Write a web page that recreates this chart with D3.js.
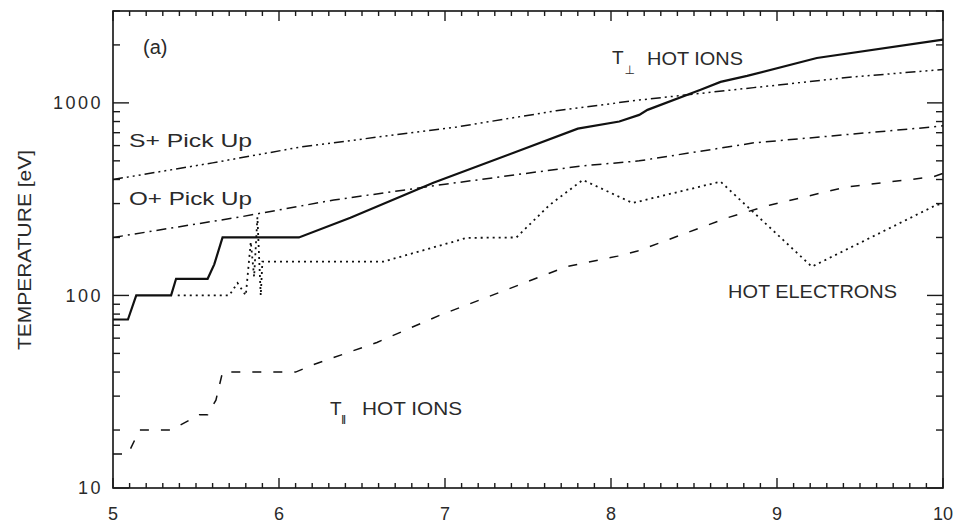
<!DOCTYPE html>
<html>
<head>
<meta charset="utf-8">
<script src="https://cdn.jsdelivr.net/npm/d3@7"></script>
<style>
  html, body { margin: 0; padding: 0; background: #fff; }
  svg { display: block; }
  text { font-family: "Liberation Sans", "DejaVu Sans", sans-serif; fill: #2a2a2a; }
</style>
</head>
<body>
<svg id="chart" width="956" height="526"></svg>
<script>
// Distance along the flux tube (x) and temperature in eV (y)
const tPerpHotIons = [
  [5.00, 75], [5.09, 75], [5.14, 100], [5.35, 100], [5.38, 122], [5.57, 122],
  [5.61, 145], [5.66, 200], [6.12, 200], [6.43, 253], [6.93, 385], [7.20, 470],
  [7.80, 735], [8.05, 800], [8.17, 866], [8.22, 920], [8.54, 1170], [8.66, 1285],
  [8.82, 1380], [9.24, 1710], [10.00, 2130]
];
const sPlusPickUp = [
  [5.00, 400], [5.60, 488], [6.13, 590], [7.07, 750], [7.67, 910], [8.17, 1035],
  [8.86, 1200], [9.46, 1365], [10.00, 1490]
];
const oPlusPickUp = [
  [5.00, 200], [5.77, 256], [6.33, 313], [7.00, 378], [7.83, 471], [8.17, 500],
  [8.86, 620], [9.94, 750], [10.00, 760]
];
const tParHotIons = [
  [5.00, 15], [5.09, 15], [5.16, 20], [5.35, 20], [5.52, 24], [5.57, 24],
  [5.62, 28.6], [5.66, 40], [6.10, 40], [6.20, 43.5], [6.59, 57], [6.97, 79],
  [7.37, 107], [7.73, 141], [8.04, 160], [8.16, 170], [8.70, 253], [8.96, 295],
  [9.42, 366], [9.94, 413], [10.00, 430]
];
const hotElectrons = [
  [5.39, 100], [5.70, 100], [5.75, 116], [5.80, 100], [5.83, 190], [5.85, 125],
  [5.87, 255], [5.89, 100], [5.90, 150], [6.63, 150], [7.05, 190], [7.13, 199],
  [7.43, 200], [7.63, 295], [7.83, 398], [8.13, 302], [8.66, 390], [9.21, 141],
  [9.96, 295], [10.00, 300]
];
const xMajorTicks = [5, 6, 7, 8, 9, 10];
const yMajorTicks = [10, 100, 1000];

const svg = d3.select("#chart");
const plotLeft = 113, plotRight = 943, plotTop = 11, plotBottom = 488;

const x = d3.scaleLinear().domain([5, 10]).range([plotLeft, plotRight]);
const y = d3.scaleLog().domain([10, 3000]).range([plotBottom, plotTop]);

const xMinor = d3.range(50, 101).map(v => v / 10).filter(v => !xMajorTicks.includes(v));
const yMinor = y.ticks().filter(v => !yMajorTicks.includes(v));

// frame
svg.append("rect")
  .attr("x", plotLeft).attr("y", plotTop)
  .attr("width", plotRight - plotLeft).attr("height", plotBottom - plotTop)
  .attr("fill", "none").attr("stroke", "#111").attr("stroke-width", 1.6);

// inward tick marks on all four sides, drawn from the scales
const tickG = svg.append("g").attr("stroke", "#1a1a1a").attr("stroke-width", 1.4);
function xTicks(values, len) {
  tickG.selectAll(null).data(values).join("line")
    .attr("x1", d => x(d)).attr("x2", d => x(d))
    .attr("y1", plotBottom).attr("y2", plotBottom - len);
  tickG.selectAll(null).data(values).join("line")
    .attr("x1", d => x(d)).attr("x2", d => x(d))
    .attr("y1", plotTop).attr("y2", plotTop + len);
}
function yTicks(values, len) {
  tickG.selectAll(null).data(values).join("line")
    .attr("y1", d => y(d)).attr("y2", d => y(d))
    .attr("x1", plotLeft).attr("x2", plotLeft + len);
  tickG.selectAll(null).data(values).join("line")
    .attr("y1", d => y(d)).attr("y2", d => y(d))
    .attr("x1", plotRight).attr("x2", plotRight - len);
}
xTicks(xMajorTicks, 10);
xTicks(xMinor, 5);
yTicks(yMajorTicks, 16);
yTicks(yMinor, 7);

// tick labels
svg.append("g").selectAll("text").data(xMajorTicks).join("text")
  .attr("x", d => x(d)).attr("y", plotBottom + 32)
  .attr("text-anchor", "middle").attr("font-size", 18)
  .text(d3.format("d"));
svg.append("g").selectAll("text").data(yMajorTicks).join("text")
  .attr("x", plotLeft - 10).attr("y", d => y(d)).attr("dy", "0.34em")
  .attr("text-anchor", "end").attr("font-size", 18).attr("letter-spacing", 2.5)
  .text(d3.format("d"));

// y axis title
svg.append("text")
  .attr("transform", `translate(31,250) rotate(-90)`)
  .attr("text-anchor", "middle")
  .attr("font-size", 18)
  .attr("textLength", 200).attr("lengthAdjust", "spacingAndGlyphs")
  .text("TEMPERATURE [eV]");

const line = d3.line().x(d => x(d[0])).y(d => y(d[1]));

const series = [
  { data: tPerpHotIons, dash: null, width: 2.2 },
  { data: sPlusPickUp, dash: "10,4,2,4,2,4,2,4", width: 1.5 },
  { data: oPlusPickUp, dash: "10,5,2,5", width: 1.5 },
  { data: tParHotIons, dash: "9,12", width: 1.5 },
  { data: hotElectrons, dash: "2,4", width: 1.8 }
];

svg.append("g").selectAll("path").data(series).join("path")
  .attr("d", d => line(d.data))
  .attr("fill", "none")
  .attr("stroke", "#111")
  .attr("stroke-width", d => d.width)
  .attr("stroke-dasharray", d => d.dash);

// labels
svg.append("text").attr("x", 143).attr("y", 54)
  .attr("font-family", "Liberation Serif, DejaVu Serif, serif")
  .attr("font-size", 20).text("(a)");

svg.append("text").attr("x", 129).attr("y", 147)
  .attr("font-size", 19).attr("textLength", 123).attr("lengthAdjust", "spacingAndGlyphs")
  .text("S+ Pick Up");
svg.append("text").attr("x", 129).attr("y", 205)
  .attr("font-size", 19).attr("textLength", 123).attr("lengthAdjust", "spacingAndGlyphs")
  .text("O+ Pick Up");

const tperp = svg.append("text").attr("x", 612).attr("y", 64).attr("font-size", 19);
tperp.append("tspan").text("T");
tperp.append("tspan").attr("font-size", 12).attr("dy", 10).attr("dx", 1).text("⊥");
svg.append("text").attr("x", 647).attr("y", 65)
  .attr("font-size", 19).attr("textLength", 96).attr("lengthAdjust", "spacingAndGlyphs")
  .text("HOT IONS");

svg.append("text").attr("x", 728).attr("y", 298)
  .attr("font-size", 19).attr("textLength", 169).attr("lengthAdjust", "spacingAndGlyphs")
  .text("HOT ELECTRONS");

const tpar = svg.append("text").attr("x", 330).attr("y", 415).attr("font-size", 19);
tpar.append("tspan").text("T");
tpar.append("tspan").attr("font-size", 9).attr("font-weight", "bold").attr("dy", 7).attr("dx", 0)
  .attr("letter-spacing", -1).text("||");
svg.append("text").attr("x", 362).attr("y", 415)
  .attr("font-size", 19).attr("textLength", 100).attr("lengthAdjust", "spacingAndGlyphs")
  .text("HOT IONS");
</script>
</body>
</html>
